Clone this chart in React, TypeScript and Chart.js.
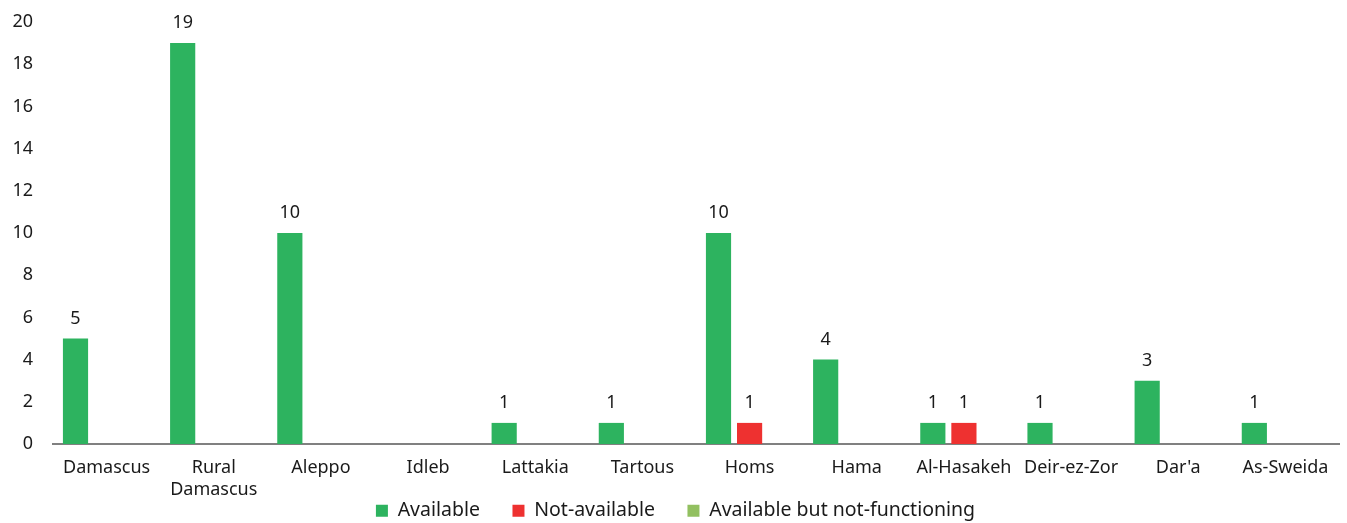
import React, { useEffect, useRef } from "react";
import { Chart, registerables } from "chart.js";

Chart.register(...registerables);

const governorates: (string | string[])[] = [
  "Damascus",
  ["Rural", "Damascus"],
  "Aleppo",
  "Idleb",
  "Lattakia",
  "Tartous",
  "Homs",
  "Hama",
  "Al-Hasakeh",
  "Deir-ez-Zor",
  "Dar'a",
  "As-Sweida",
];

const available = [5, 19, 10, 0, 1, 1, 10, 4, 1, 1, 3, 1];
const notAvailable = [0, 0, 0, 0, 0, 0, 1, 0, 1, 0, 0, 0];
const notFunctioning = [0, 0, 0, 0, 0, 0, 0, 0, 0, 0, 0, 0];

const FONT = "'Noto Sans', 'DejaVu Sans', sans-serif";
const TEXT = "#1a1a1a";
const SIZE = 18;
const LEGEND_SIZE = 19.5;

// Writes each non-zero value just above its bar.
const valueLabels = {
  id: "valueLabels",
  afterDatasetsDraw(chart: Chart) {
    const { ctx } = chart;
    ctx.save();
    ctx.font = `${SIZE}px ${FONT}`;
    ctx.fillStyle = TEXT;
    ctx.textAlign = "center";
    ctx.textBaseline = "bottom";
    chart.data.datasets.forEach((ds, di) => {
      const meta = chart.getDatasetMeta(di);
      if (meta.hidden) return;
      meta.data.forEach((el: any, i) => {
        const v = ds.data[i] as number;
        if (!v) return;
        ctx.fillText(String(v), el.x, el.y - 11);
      });
    });
    ctx.restore();
  },
};

// Extra spacing after the first two legend entries widens the gap between items.
const legendGap = "\u2003\u2002\u2009";

export default function App() {
  const ref = useRef<HTMLCanvasElement>(null);

  useEffect(() => {
    if (!ref.current) return;
    const chart = new Chart(ref.current, {
      type: "bar",
      data: {
        labels: governorates,
        datasets: [
          {
            label: "Available",
            data: available,
            backgroundColor: "#2db35f",
            barPercentage: 0.81,
            categoryPercentage: 0.87,
          },
          {
            label: "Not-available",
            data: notAvailable,
            backgroundColor: "#ee3130",
            barPercentage: 0.81,
            categoryPercentage: 0.87,
          },
          {
            label: "Available but not-functioning",
            data: notFunctioning,
            backgroundColor: "#92c060",
            barPercentage: 0.81,
            categoryPercentage: 0.87,
          },
        ],
      },
      options: {
        animation: false,
        responsive: false,
        maintainAspectRatio: false,
        layout: { padding: { top: 22, right: 8, left: 12, bottom: 0 } },
        plugins: {
          tooltip: { enabled: false },
          legend: {
            position: "bottom",
            maxHeight: 22,
            labels: {
              boxWidth: 12,
              boxHeight: 12,
              padding: 0,
              color: TEXT,
              font: { family: FONT, size: LEGEND_SIZE },
              generateLabels(c: Chart) {
                const items = Chart.defaults.plugins.legend.labels.generateLabels(c);
                return items.map((it, i) =>
                  i < items.length - 1 ? { ...it, text: it.text + legendGap } : it
                );
              },
            },
          },
        },
        scales: {
          x: {
            grid: { display: false, drawTicks: false },
            border: { display: true, color: "#808080", width: 2 },
            ticks: {
              color: TEXT,
              font: { family: FONT, size: SIZE },
              maxRotation: 0,
              autoSkip: false,
              padding: 13,
            },
            afterFit(scale: any) {
              scale.paddingLeft = 0;
              scale.paddingRight = 0;
              scale.height = 57;
            },
          },
          y: {
            min: 0,
            max: 20,
            grid: { display: false, drawTicks: false },
            border: { display: false },
            ticks: {
              stepSize: 2,
              color: TEXT,
              font: { family: FONT, size: SIZE },
              padding: 20,
            },
            afterFit(scale: any) {
              scale.width = 41;
              scale.paddingTop = 0;
              scale.paddingBottom = 0;
            },
          },
        },
      },
      plugins: [valueLabels],
    });
    return () => chart.destroy();
  }, []);

  return (
    <div style={{ position: "absolute", left: 0, top: 0, width: 1347, height: 523, background: "#fff" }}>
      <canvas ref={ref} width={1347} height={523} />
    </div>
  );
}
